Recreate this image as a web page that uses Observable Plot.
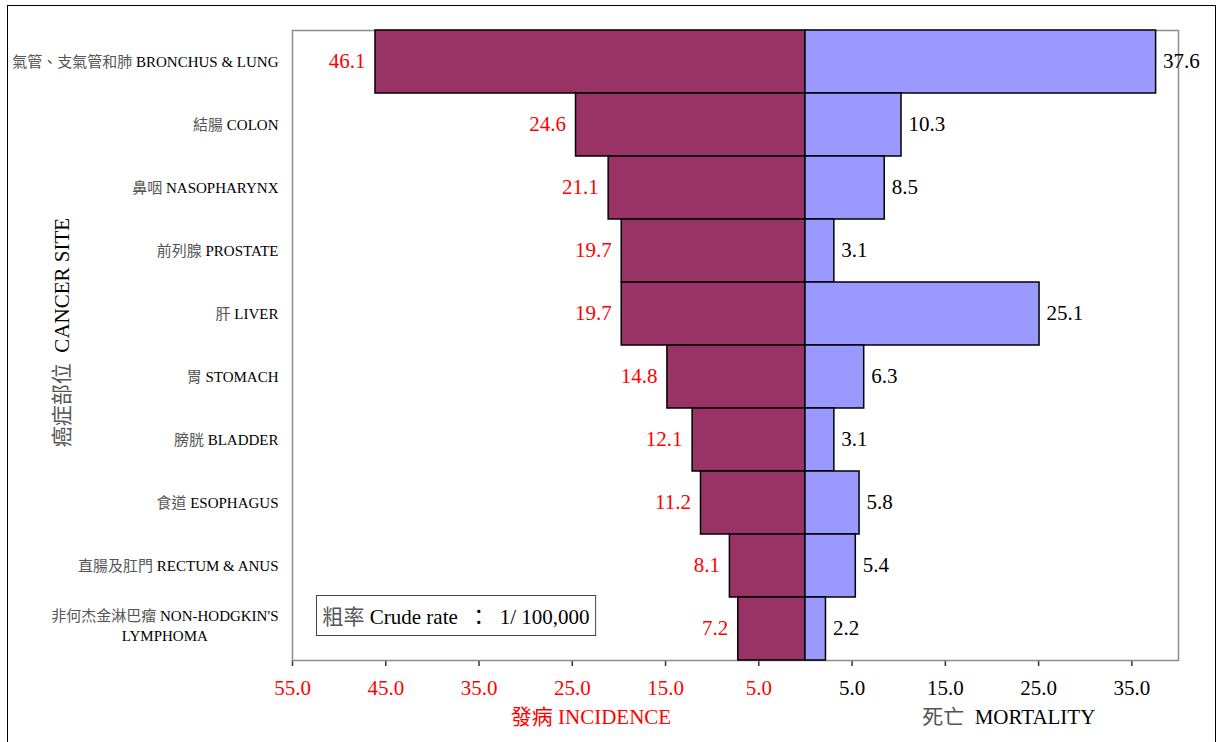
<!DOCTYPE html>
<html>
<head>
<meta charset="utf-8">
<script src="https://cdn.jsdelivr.net/npm/d3@7"></script>
<script src="https://cdn.jsdelivr.net/npm/@observablehq/plot@0.6"></script>
<style>
  html, body { margin: 0; padding: 0; background: #fff; overflow: hidden; }
  #page { position: relative; width: 1220px; height: 742px; }
  #frame { position: absolute; left: 7px; top: 5px; width: 1207px; height: 780px;
           border: 1.5px solid #000; pointer-events: none; }
  #chart svg text { white-space: pre; }
</style>
</head>
<body>
<div id="page"><div id="frame"></div><div id="chart"></div></div>
<script>
// Cancer sites (Chinese / English), with an optional second English line
const sitesZh = ["氣管、支氣管和肺", "結腸", "鼻咽", "前列腺", "肝", "胃", "膀胱", "食道", "直腸及肛門", "非何杰金淋巴瘤"];
const sitesEn = ["BRONCHUS & LUNG", "COLON", "NASOPHARYNX", "PROSTATE", "LIVER", "STOMACH", "BLADDER", "ESOPHAGUS", "RECTUM & ANUS", "NON-HODGKIN'S"];
const sitesEn2 = ["", "", "", "", "", "", "", "", "", "LYMPHOMA"];

// Crude rates per 100,000
const incidence = [46.1, 24.6, 21.1, 19.7, 19.7, 14.8, 12.1, 11.2, 8.1, 7.2];
const mortality = [37.6, 10.3, 8.5, 3.1, 25.1, 6.3, 3.1, 5.8, 5.4, 2.2];

// Axis ticks: incidence runs leftwards (negative side), mortality rightwards
const incidenceTicks = [-55, -45, -35, -25, -15, -5];
const mortalityTicks = [5, 15, 25, 35];

const incidenceTitle = "發病 INCIDENCE";
const mortalityTitle = "死亡  MORTALITY";
const siteTitle = "癌症部位  CANCER SITE";
const noteText = "粗率 Crude rate  ：  1/ 100,000";

const rows = sitesEn.map((en, i) => ({
  site: en, zh: sitesZh[i], en2: sitesEn2[i],
  inc: incidence[i], mort: mortality[i]
}));

const FONT = "'Liberation Serif', 'Times New Roman', 'Noto Sans CJK TC', serif";
const fmt = d3.format(".1f");
const label = d => d.zh + " " + d.site;

const chart = Plot.plot({
  width: 1220,
  height: 742,
  marginLeft: 292,
  marginRight: 42,
  marginTop: 30,
  marginBottom: 82,
  style: { fontFamily: FONT, background: "transparent", overflow: "visible", color: "#000" },
  x: {
    domain: [-55, 40],
    ticks: [...incidenceTicks, ...mortalityTicks],
    tickFormat: d => fmt(Math.abs(d)),
    tickSize: 6,
    tickPadding: 14,
    line: true,
    label: null
  },
  y: { domain: rows.map(d => d.site), padding: 0, axis: null },
  marks: [
    Plot.frame({ stroke: "#8c8c8c", strokeWidth: 1.5 }),
    // incidence bars to the left of zero
    Plot.barX(rows, { x1: 0, x2: d => -d.inc, y: "site", fill: "#993366", stroke: "#000", strokeWidth: 1.5 }),
    // mortality bars to the right of zero
    Plot.barX(rows, { x1: 0, x2: "mort", y: "site", fill: "#9999ff", stroke: "#000", strokeWidth: 1.5 }),
    // value labels
    Plot.text(rows, { x: d => -d.inc, y: "site", text: d => fmt(d.inc), textAnchor: "end", dx: -10, dy: -1, fontSize: 21, fill: "#ff0000" }),
    Plot.text(rows, { x: "mort", y: "site", text: d => fmt(d.mort), textAnchor: "start", dx: 7, dy: -1, fontSize: 21, fill: "#000" }),
    // site labels
    Plot.text(rows.filter(d => !d.en2), { y: "site", frameAnchor: "left", text: label, textAnchor: "end", dx: -14, fontSize: 15, fill: "#000", className: "han-tint" }),
    Plot.text(rows.filter(d => d.en2), { y: "site", frameAnchor: "left", text: label, textAnchor: "end", dx: -14, dy: -13, fontSize: 15, fill: "#000", className: "han-tint two-line" }),
    // axis titles
    Plot.text([incidenceTitle], { x: -23, frameAnchor: "bottom", dy: 63, fontSize: 21, fill: "#ff0000" }),
    Plot.text([mortalityTitle], { x: 21.8, frameAnchor: "bottom", dy: 63, fontSize: 21, fill: "#000", className: "han-tint" }),
    Plot.text([siteTitle], { frameAnchor: "left", rotate: -90, textAnchor: "middle", dx: -230, dy: -13, fontSize: 21, fill: "#000", className: "han-tint" }),
    // note box text
    Plot.text([noteText], { frameAnchor: "bottom-left", dx: 30, dy: -37, textAnchor: "start", fontSize: 21, fill: "#000", className: "han-tint note" })
  ]
});

document.getElementById("chart").appendChild(chart);
const svg = d3.select(chart);
const svgBox = chart.getBoundingClientRect();
const zeroX = chart.scale("x").apply(0);

// Bottom axis: dark line and ticks, red labels on the incidence side
svg.selectAll('g[aria-label^="x-axis"]').attr("color", "#333").attr("font-size", 21);
svg.selectAll('g[aria-label^="x-axis"] path, g[aria-label^="x-axis"] line').attr("stroke-width", 1.5);
svg.selectAll('g[aria-label^="x-axis"] path.domain').attr("stroke-width", 2);
svg.selectAll('g[aria-label^="x-axis"] text').each(function () {
  const bb = this.getBoundingClientRect();
  const cx = bb.left - svgBox.left + bb.width / 2;
  d3.select(this).attr("font-size", 21).attr("fill", cx < zeroX ? "#ff0000" : "#000");
});

// Render the leading Chinese part of a label in a softer grey
svg.selectAll(".han-tint text").each(function () {
  const s = this.textContent;
  const m = s.match(/^([^A-Za-z0-9]*)([\s\S]*)$/);
  if (!m || !m[1]) return;
  const t = d3.select(this);
  t.text(null);
  t.append("tspan").attr("fill", "#555").text(m[1]);
  t.append("tspan").text(m[2]);
});

// Second line for two-line site labels, centred under the first line
svg.selectAll(".two-line text").each(function (_, i) {
  const bb = this.getBoundingClientRect();
  const d = rows.filter(r => r.en2)[i];
  svg.append("text")
    .attr("x", bb.left - svgBox.left + bb.width / 2)
    .attr("y", bb.top - svgBox.top + bb.height / 2 + 20)
    .attr("dy", "0.32em")
    .attr("text-anchor", "middle")
    .attr("font-family", FONT)
    .attr("font-size", 15)
    .attr("fill", "#000")
    .text(d.en2);
});

// Box around the crude-rate note
svg.selectAll(".note text").each(function () {
  const bb = this.getBoundingClientRect();
  const cy = bb.top - svgBox.top + bb.height / 2;
  svg.insert("rect", ".note")
    .attr("x", bb.left - svgBox.left - 6)
    .attr("y", cy - 21)
    .attr("width", bb.width + 12)
    .attr("height", 40)
    .attr("fill", "#fff")
    .attr("stroke", "#444")
    .attr("stroke-width", 1);
});
</script>
</body>
</html>
